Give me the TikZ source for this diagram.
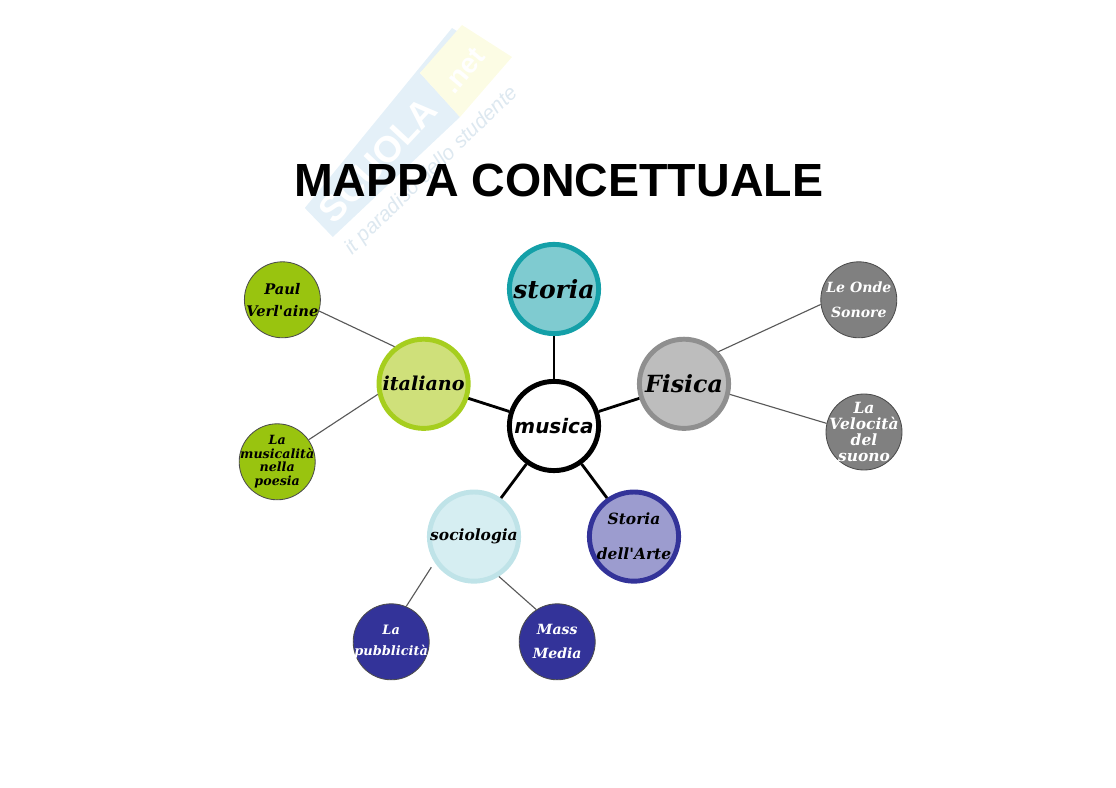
\documentclass[tikz,border=0pt]{standalone}
\usepackage{fontspec}
\setmainfont{Liberation Sans}
\newfontfamily\dripfont{DejaVu Serif}
\newfontfamily\widefont{DejaVu Sans}
\usepackage{xcolor}
\usepackage{tikz}
\usetikzlibrary{positioning}
\definecolor{leafgreen}{HTML}{99C40F}
\definecolor{leafblue}{HTML}{333399}
\definecolor{leafgrey}{HTML}{808080}
\definecolor{markblue}{HTML}{E4F0F8}
\definecolor{markyellow}{HTML}{FCFCE4}
\definecolor{marktag}{HTML}{DDE8F0}
\definecolor{storiafill}{HTML}{7FCBD0}
\definecolor{storialine}{HTML}{14A0A8}
\definecolor{italianofill}{HTML}{CFE07A}
\definecolor{italianoline}{HTML}{A6CE1E}
\definecolor{fisicafill}{HTML}{BDBDBD}
\definecolor{fisicaline}{HTML}{8F8F8F}
\definecolor{sociofill}{HTML}{D6EEF2}
\definecolor{socioline}{HTML}{BFE3E8}
\definecolor{artefill}{HTML}{9C9CCF}
\newcommand{\drip}[2]{\dripfont\bfseries\itshape\fontsize{#1}{#2}\selectfont}

\begin{document}
\begin{tikzpicture}[
    topic/.style={circle, draw, line width=3.5pt, minimum size=2.23cm, inner sep=-8mm, align=center},
    leaf/.style={circle, draw=black!70, line width=0.6pt, minimum size=1.9cm, inner sep=-8mm, align=center},
    spoke/.style={line width=2pt, black},
    twig/.style={line width=0.8pt, black!65},
    marktext/.style={inner sep=0pt, transform shape}
]
    \useasboundingbox (0, 0) rectangle (27.9, 19.675);

    % watermark
    \fill[markblue] (7.62, 14.475) -- (11.3, 18.975) -- (11.5, 18.85) -- (10.5, 17.85) -- (11.5, 16.75) -- (8.32, 13.75) -- cycle;
    \fill[markyellow] (10.5, 17.85) -- (11.55, 19.05) -- (12.8, 18.25) -- (11.5, 16.75) -- cycle;
    \node[marktext, rotate=47, white, font=\bfseries\fontsize{26}{26}\selectfont] (markname) at (9.45, 15.675) {SCUOLA};
    \node[marktext, rotate=50, white, font=\bfseries\fontsize{20}{20}\selectfont] (markdomain) at (11.6, 17.9) {.net};
    \node[marktext, rotate=44, marktag, font=\itshape\fontsize{14.8}{14.8}\selectfont] (markline) at (10.79, 15.4) {it paradiso dello studente};

    \node[font=\bfseries\fontsize{33.1}{33.1}\selectfont, text=black] (title) at (13.965, 15.175) {MAPPA CONCETTUALE};

    \node[topic, fill=white, draw=black, font=\widefont\bfseries\itshape\fontsize{14.2}{16}\selectfont] (musica) at (13.85, 9.025) {musica};
    \node[topic, fill=storiafill, draw=storialine, font=\drip{17.8}{20}] (storia) at (13.85, 12.45) {storia};
    \node[topic, fill=italianofill, draw=italianoline, font=\drip{13.6}{16}] (italiano) at (10.59, 10.08) {italiano};
    \node[topic, fill=fisicafill, draw=fisicaline, font=\drip{16.8}{20}] (fisica) at (17.1, 10.08) {Fisica};
    \node[topic, fill=sociofill, draw=socioline, font=\drip{11}{14}] (sociologia) at (11.85, 6.26) {sociologia};
    \node[topic, fill=artefill, draw=leafblue, font=\drip{11}{25}] (arte) at (15.85, 6.26) {Storia\\dell'Arte};

    \node[leaf, fill=leafgreen, font=\drip{10.4}{15.6}] (paul) at (7.06, 12.18) {Paul\\Verl'aine};
    \node[leaf, fill=leafgreen, font=\drip{9}{9.7}] (poesia) at (6.93, 8.13) {La\\musicalità\\nella\\poesia};
    \node[leaf, fill=leafblue, text=white, font=\drip{9.2}{15}] (pubblicita) at (9.78, 3.63) {La\\pubblicità};
    \node[leaf, fill=leafblue, text=white, font=\drip{10}{17}] (mass) at (13.93, 3.63) {Mass\\Media};
    \node[leaf, fill=leafgrey, text=white, font=\drip{10}{18}] (onde) at (21.47, 12.18) {Le Onde\\Sonore};
    \node[leaf, fill=leafgrey, text=white, font=\drip{11}{11.4}] (velocita) at (21.6, 8.875) {La\\Velocità\\del\\suono};

    \draw[spoke] (musica.90) -- (storia.-90);
    \draw[spoke] (musica.162) -- (italiano.-18);
    \draw[spoke] (musica.18) -- (fisica.198);
    \draw[spoke] (musica.234) -- (sociologia.55);
    \draw[spoke] (musica.-54) -- (arte.125);

    \draw[twig] (italiano.128) -- (paul.-17);
    \draw[twig] (italiano.193) -- (poesia.35);
    \draw[twig] (fisica.43) -- (onde.187);
    \draw[twig] (fisica.-13) -- (velocita.167);
    \draw[twig, shorten <=0.15cm] (sociologia.213) -- (pubblicita.67);
    \draw[twig] (sociologia.-58) -- (mass.123);
\end{tikzpicture}
\end{document}
